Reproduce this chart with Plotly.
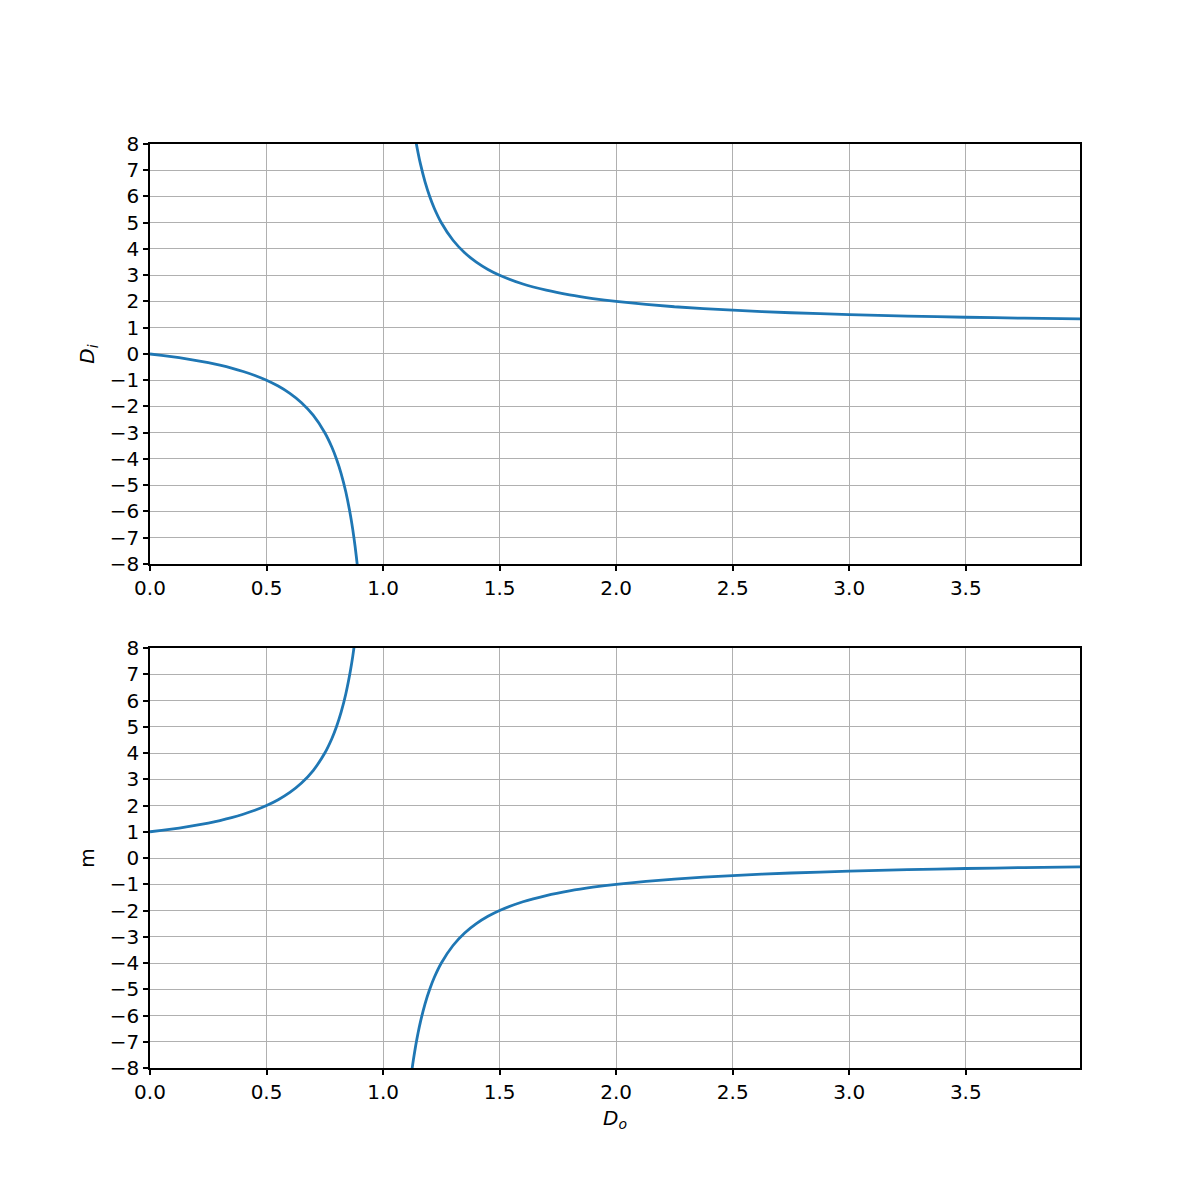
import plotly.graph_objects as go

# Object distance D_o (shared x values), None marks the asymptote gap
D_o = [0, 0.05, 0.1, 0.15, 0.2, 0.25, 0.3, 0.35, 0.4, 0.45, 0.5, 0.55, 0.6, 0.65, 0.7,
       0.75, 0.78, 0.8, 0.82, 0.84, 0.86, 0.87, 0.88, 0.89, 0.9,
       1.0,
       1.1, 1.12, 1.13, 1.14, 1.15, 1.16, 1.18, 1.2, 1.22, 1.25, 1.3, 1.35, 1.4, 1.45, 1.5,
       1.6, 1.7, 1.8, 1.9, 2.0, 2.25, 2.5, 2.75, 3.0, 3.25, 3.5, 3.75, 3.99]

D_i = [0, -0.053, -0.111, -0.176, -0.25, -0.333, -0.429, -0.538, -0.667, -0.818, -1.0,
       -1.222, -1.5, -1.857, -2.333, -3.0, -3.545, -4.0, -4.556, -5.25, -6.143, -6.692,
       -7.333, -8.091, -9.0,
       None,
       11.0, 9.333, 8.692, 8.143, 7.667, 7.25, 6.556, 6.0, 5.545, 5.0, 4.333, 3.857, 3.5,
       3.222, 3.0, 2.667, 2.429, 2.25, 2.111, 2.0, 1.8, 1.667, 1.571, 1.5, 1.444, 1.4,
       1.364, 1.334]

m = [1.0, 1.053, 1.111, 1.176, 1.25, 1.333, 1.429, 1.538, 1.667, 1.818, 2.0, 2.222, 2.5,
     2.857, 3.333, 4.0, 4.545, 5.0, 5.556, 6.25, 7.143, 7.692, 8.333, 9.091, 10.0,
     None,
     -10.0, -8.333, -7.692, -7.143, -6.667, -6.25, -5.556, -5.0, -4.545, -4.0, -3.333,
     -2.857, -2.5, -2.222, -2.0, -1.667, -1.429, -1.25, -1.111, -1.0, -0.8, -0.667,
     -0.571, -0.5, -0.444, -0.4, -0.364, -0.334]

x_ticks = [0.0, 0.5, 1.0, 1.5, 2.0, 2.5, 3.0, 3.5]
y_ticks = list(range(-8, 9))
y_ticktext = [("\u2212" + str(-v)) if v < 0 else str(v) for v in y_ticks]
x_ticktext = [f"{v:.1f}" for v in x_ticks]

FONT = "DejaVu Sans"
FS = 20
BLUE = "#1f77b4"

fig = go.Figure()
fig.add_trace(go.Scatter(x=D_o, y=D_i, mode="lines", line=dict(color=BLUE, width=2.8, shape="spline", smoothing=0.6),
                         connectgaps=False, xaxis="x", yaxis="y", showlegend=False))
fig.add_trace(go.Scatter(x=D_o, y=m, mode="lines", line=dict(color=BLUE, width=2.8, shape="spline", smoothing=0.6),
                         connectgaps=False, xaxis="x2", yaxis="y2", showlegend=False))

axis_common = dict(showline=True, linecolor="black", linewidth=1.6, mirror=True,
                   showgrid=True, gridcolor="#b0b0b0", gridwidth=1.4,
                   ticks="outside", ticklen=5, tickwidth=1.6, tickcolor="black",
                   zeroline=False, tickfont=dict(family=FONT, size=FS, color="black"))

fig.update_layout(
    width=1200, height=1200,
    paper_bgcolor="white", plot_bgcolor="white",
    margin=dict(l=142, r=128, t=136, b=140),
    font=dict(family=FONT, size=FS, color="black"),
    xaxis=dict(domain=[0, 1], anchor="y", range=[0, 3.99], tickvals=x_ticks, ticktext=x_ticktext, **axis_common),
    yaxis=dict(domain=[0.5455, 1], anchor="x", range=[-8, 8], tickvals=y_ticks, ticktext=y_ticktext,
               title=dict(text="<i>D</i><sub><i>i</i></sub>", standoff=10, font=dict(family=FONT, size=FS)),
               **axis_common),
    xaxis2=dict(domain=[0, 1], anchor="y2", range=[0, 3.99], tickvals=x_ticks, ticktext=x_ticktext,
                title=dict(text="<i>D</i><sub><i>o</i></sub>", standoff=8, font=dict(family=FONT, size=FS)),
                **axis_common),
    yaxis2=dict(domain=[0, 0.4545], anchor="x2", range=[-8, 8], tickvals=y_ticks, ticktext=y_ticktext,
                title=dict(text="m", standoff=10, font=dict(family=FONT, size=FS)),
                **axis_common),
)

fig.write_html("out.html")
